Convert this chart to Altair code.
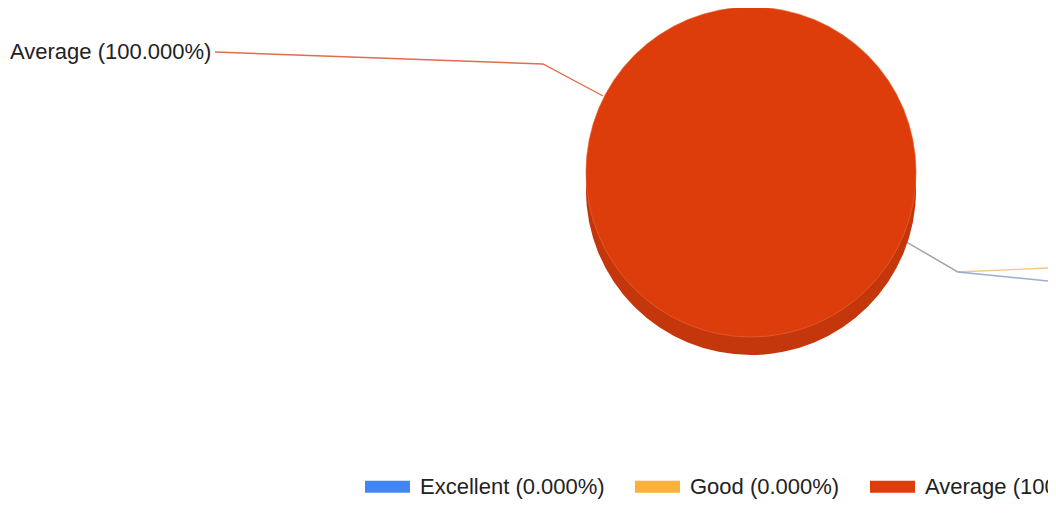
import altair as alt
import pandas as pd

# ---- data ----
categories = ["Excellent", "Good", "Average"]
values = [0.0, 0.0, 100.0]
slice_colors = ["#4285F4", "#FBB13C", "#DC3D0A"]
side_colors = ["#2f6fd6", "#e09a28", "#C4360B"]

total = sum(values)
labels = [f"{c} ({v / total * 100:.3f}%)" for c, v in zip(categories, values)]
df = pd.DataFrame({"cat": categories, "value": values, "label": labels,
                   "side": side_colors, "i": range(len(categories))})

# ---- layout constants (pixels inside the plot area) ----
W, H = 1040, 496
CX, CY, R = 743, 164, 165
DEPTH = [18, 12, 6]
FONT = "Liberation Sans"

# leader-line paths (annotation geometry)
leader_avg_x = [207, 535, 595]
leader_avg_y = [44, 56, 88]
leader_good_x = [895, 950, 1040]
leader_good_y = [232, 264, 260]
leader_exc_x = [895, 950, 1040]
leader_exc_y = [232, 264, 273]

lines = pd.DataFrame({
    "x": leader_avg_x + leader_good_x + leader_exc_x,
    "y": leader_avg_y + leader_good_y + leader_exc_y,
    "series": ["Average"] * 3 + ["Good"] * 3 + ["Excellent"] * 3,
    "k": [0, 1, 2] * 3,
})
line_colors = {"Average": "#d9532f", "Good": "#f0be6a", "Excellent": "#8a9fc8"}
lines["col"] = lines["series"].map(line_colors)

leader = alt.Chart(lines).mark_line(strokeWidth=1.4, opacity=0.85).encode(
    x=alt.X("x:Q", scale=None, axis=None),
    y=alt.Y("y:Q", scale=None, axis=None),
    detail="series:N",
    order="k:O",
    stroke=alt.Stroke("col:N", scale=None, legend=None),
)

base = alt.Chart(df)

depth_layers = [
    base.mark_arc(radius=R).encode(
        theta=alt.Theta("value:Q", stack=True),
        order=alt.Order("i:O"),
        fill=alt.Fill("side:N", scale=None, legend=None),
        x=alt.value(CX),
        y=alt.value(CY + d),
    )
    for d in DEPTH
]

top = base.mark_arc(radius=R, stroke="#ec6b3c", strokeWidth=1, strokeOpacity=0.6).encode(
    theta=alt.Theta("value:Q", stack=True),
    order=alt.Order("i:O"),
    color=alt.Color(
        "label:N",
        scale=alt.Scale(domain=labels, range=slice_colors),
        sort=labels,
        legend=alt.Legend(
            title=None,
            orient="none",
            legendX=357,
            legendY=456,
            direction="horizontal",
            symbolType="M-1,-0.27H1V0.27H-1Z",
            symbolSize=2025,
            symbolStrokeWidth=0,
            symbolOpacity=1,
            labelFont=FONT,
            labelFontSize=22,
            labelColor="#222222",
            labelOffset=10,
            columnPadding=30,
            labelLimit=0,
            padding=0,
        ),
    ),
    x=alt.value(CX),
    y=alt.value(CY),
)

pie_label = base.transform_filter("datum.value > 0").mark_text(
    font=FONT, fontSize=22, color="#222222", align="left", baseline="alphabetic"
).encode(
    text="label:N",
    x=alt.value(2),
    y=alt.value(51),
)

chart = alt.layer(leader, *depth_layers, top, pie_label).properties(
    width=W, height=H,
    autosize=alt.AutoSizeParams(type="none"),
    padding=0,
    background="white",
).configure_view(stroke=None, strokeWidth=0)

chart.save("out.html", embed_options={"renderer": "svg", "actions": False})
